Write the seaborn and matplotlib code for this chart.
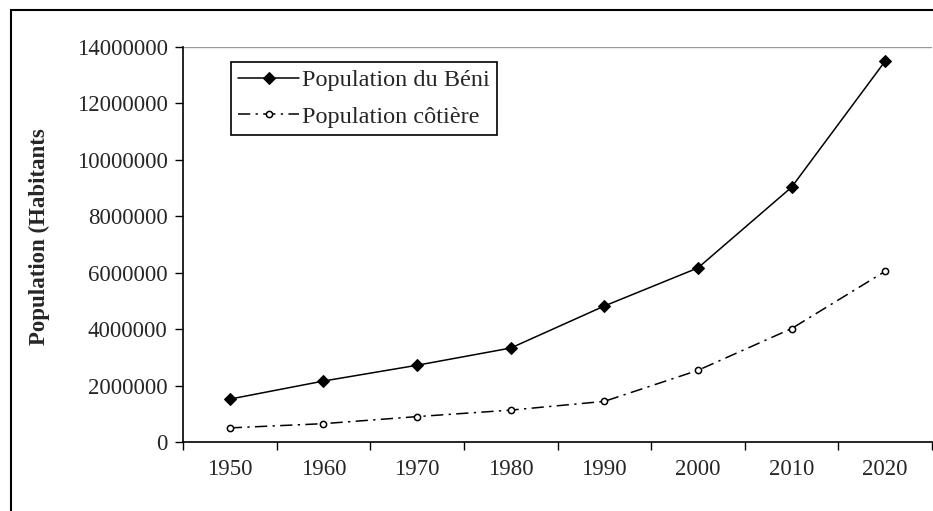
import matplotlib
matplotlib.use("Agg")
import matplotlib.pyplot as plt
import matplotlib.patches as mpatches
from matplotlib.ticker import FixedLocator, FuncFormatter
import seaborn as sns
import pandas as pd
import numpy as np

years = ["1950", "1960", "1970", "1980", "1990", "2000", "2010", "2020"]
pop_benin = [1520000, 2160000, 2720000, 3330000, 4820000, 6170000, 9030000, 13500000]
pop_cotiere = [500000, 650000, 900000, 1130000, 1440000, 2540000, 4020000, 6050000]

sns.set_style("white")
plt.rcParams['font.family'] = ['Liberation Serif', 'DejaVu Serif']

fig = plt.figure(figsize=(9.33, 5.11), dpi=100)
ax = fig.add_axes([183 / 933, 69 / 511, 749 / 933, 395 / 511])

pos = np.arange(len(years))
sns.lineplot(x=pos, y=pop_benin, ax=ax, color="black", linewidth=1.1,
             marker="D", markersize=6.5, markeredgecolor="black",
             markerfacecolor="black", label="Population du Béni")
sns.lineplot(x=pos, y=pop_cotiere, ax=ax, color="black", linewidth=1.1,
             dashes=False, marker="o", markersize=4.5, markeredgecolor="black",
             markeredgewidth=1.1, markerfacecolor="white", label="Population côtière")
ax.lines[1].set_dashes([8, 3.5, 1.5, 3.5])

ax.set_xlim(-0.5, len(years) - 0.5)
ax.set_ylim(0, 14000000)

# y axis
ax.yaxis.set_major_locator(FixedLocator(np.arange(0, 14000001, 2000000)))
ax.yaxis.set_major_formatter(FuncFormatter(lambda v, p: "%d" % v))
ax.tick_params(axis="y", which="major", direction="out", length=6, width=1,
               color="black", labelsize=16.5, left=True, pad=5)
ax.axhline(14000000, color="#999999", linewidth=1)

# x axis: labels at centres, ticks at boundaries
ax.set_xticks(pos)
ax.set_xticklabels(years)
ax.set_xticks(np.arange(-0.5, len(years), 1), minor=True)
ax.tick_params(axis="x", which="major", length=0, labelsize=16.5, pad=12)
ax.tick_params(axis="x", which="minor", direction="out", length=6, width=1,
               color="black", bottom=True)

for s in ["top", "right"]:
    ax.spines[s].set_visible(False)
for s in ["left", "bottom"]:
    ax.spines[s].set_color("black")
    ax.spines[s].set_linewidth(1.2)

ax.set_ylabel("Population (Habitants", fontsize=16.5, fontweight="bold")
ax.yaxis.set_label_coords(-0.178, 0.52)

leg = ax.legend(loc="upper left", bbox_to_anchor=(0.064, 0.962), fontsize=17.5,
                frameon=True, fancybox=False, framealpha=1, edgecolor="black",
                handlelength=2.5, handletextpad=0.12, borderpad=0.3,
                labelspacing=0.6, borderaxespad=0)
leg.get_frame().set_linewidth(1.2)

# chart border (cropped on right and bottom)
border = mpatches.Rectangle((11 / 933, -0.2), 1.2, 1.0 - 10 / 511 + 0.2,
                            transform=fig.transFigure, fill=False,
                            edgecolor="black", linewidth=1.5, clip_on=False)
fig.patches.append(border)

fig.savefig("out.png", dpi=100)
